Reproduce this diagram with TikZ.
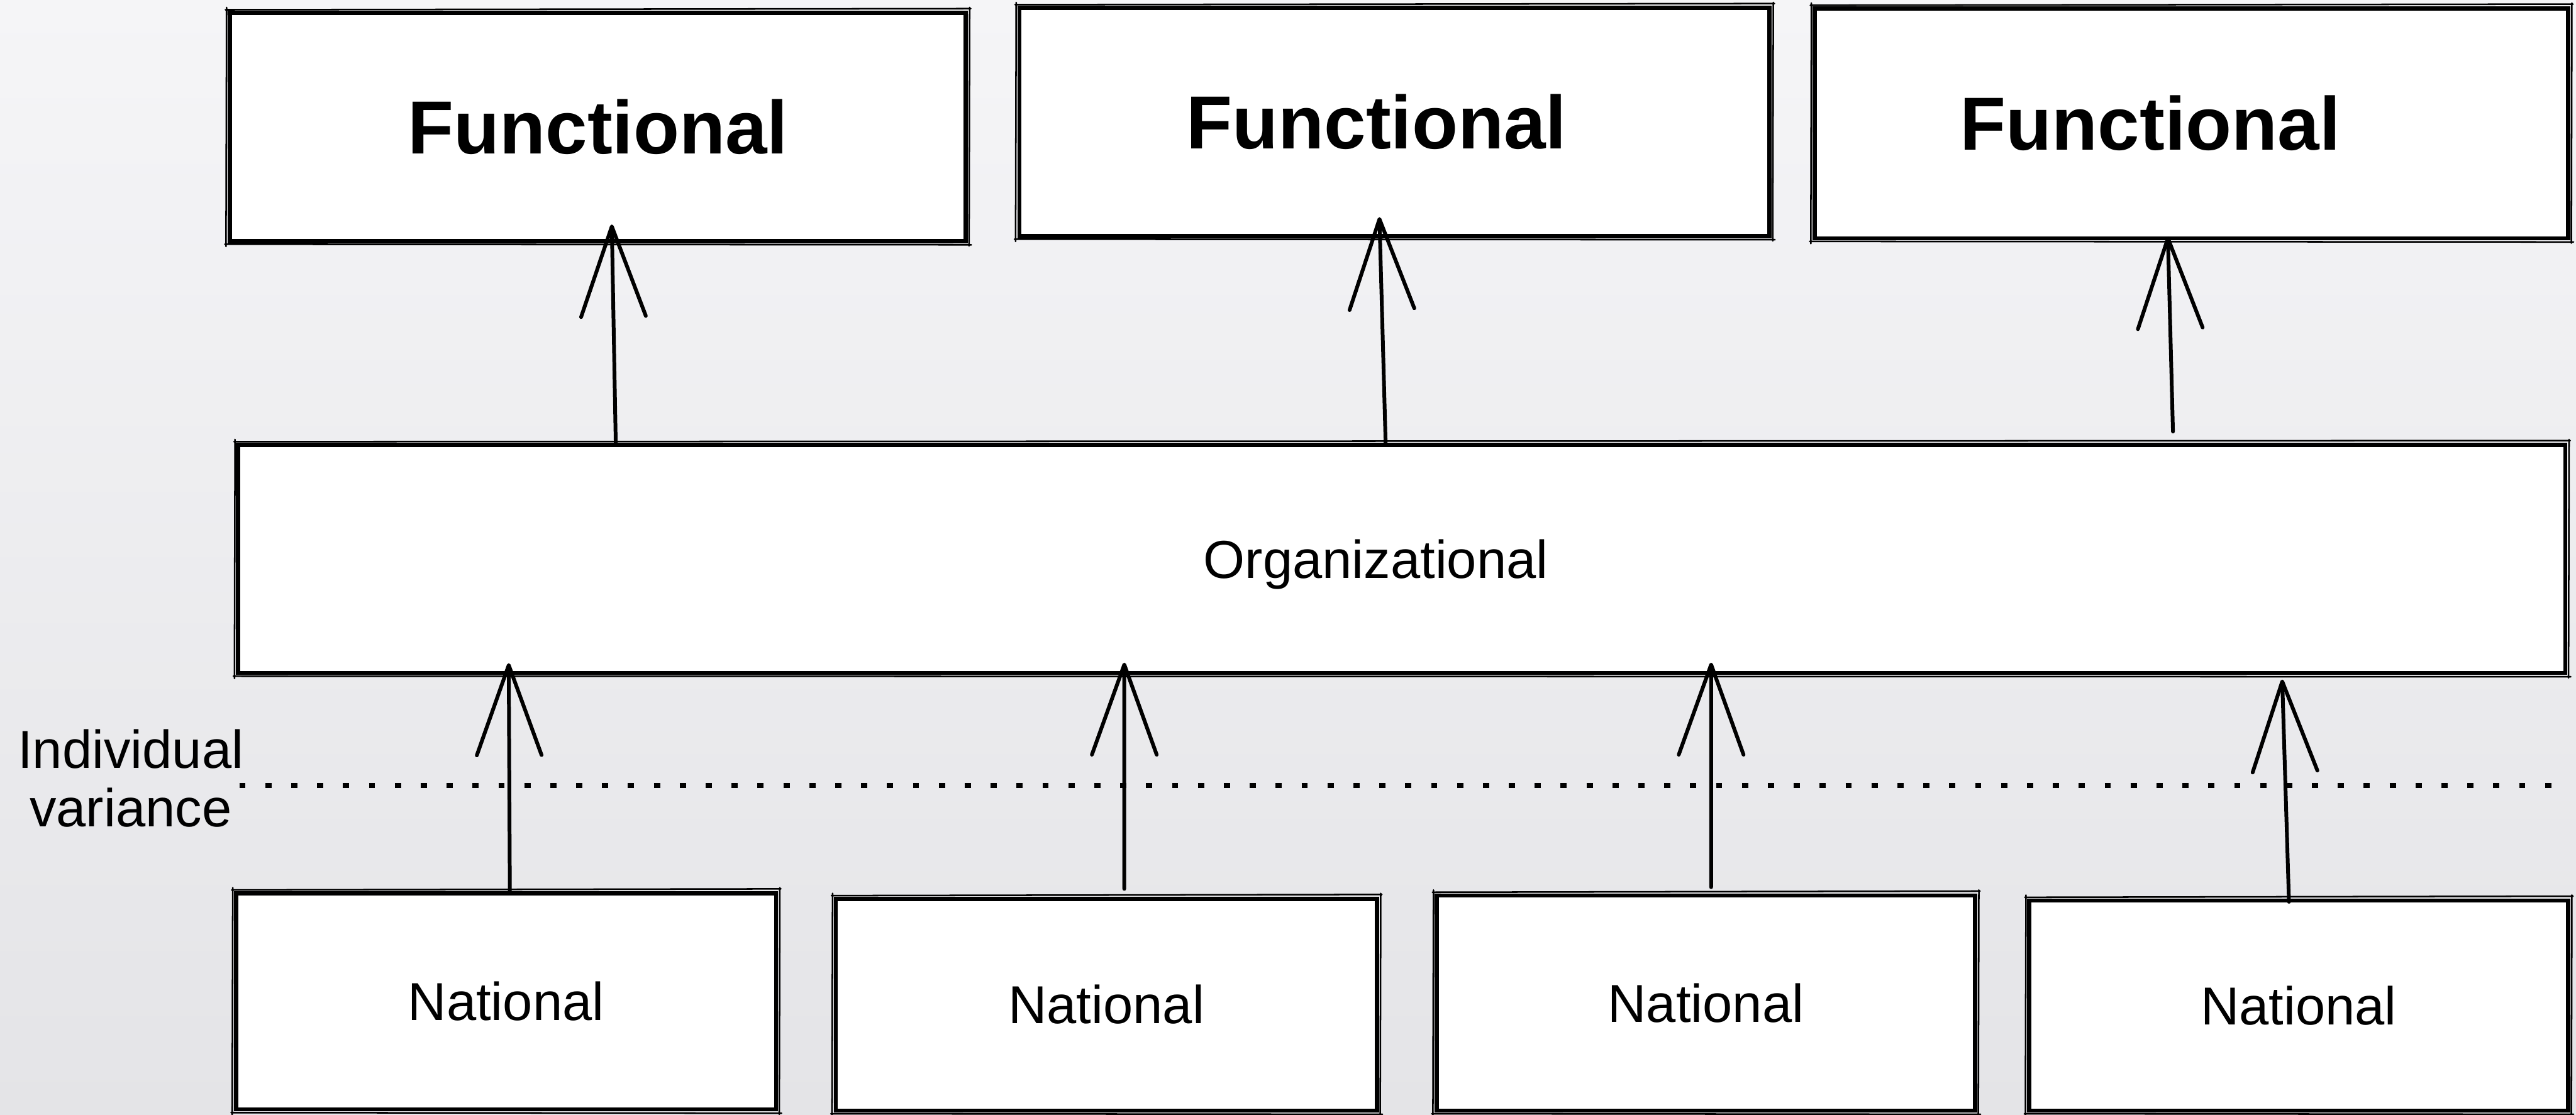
\documentclass[tikz,border=0pt]{standalone}
\usepackage{fontspec}
\setmainfont{Liberation Sans}
\usetikzlibrary{arrows.meta,calc}
\definecolor{bgtop}{HTML}{F5F5F7}
\definecolor{bgbot}{HTML}{E4E4E7}
\tikzset{
  box/.style={draw=black, fill=white, line width=2.1pt, inner sep=0pt},
  funcbox/.style={box, font=\fontsize{38}{40}\selectfont\bfseries},
  orgbox/.style={box, text depth=0pt, font=\fontsize{27}{29.5}\selectfont},
  natbox/.style={box, font=\fontsize{27}{29.5}\selectfont},
  rough/.style={line width=0.8pt, line cap=round},
  upar/.style={line width=1.9pt, line cap=round, -{Straight Barb[length=1.6cm,width=1.15cm,round]}},
  dotline/.style={line width=0.085cm, dash pattern=on 0.11cm off 0.35cm},
  lbl/.style={align=center, font=\fontsize{27}{29.5}\selectfont, inner sep=0pt}
}
\newcommand{\roughbox}[1]{%
  \draw[rough] ([shift={(-0.04,0.02)}]#1.north west) -- ([shift={(0.05,0.04)}]#1.north east)
               ([shift={(0.03,0.06)}]#1.north east) -- ([shift={(0.02,-0.05)}]#1.south east)
               ([shift={(0.06,-0.03)}]#1.south east) -- ([shift={(-0.05,-0.02)}]#1.south west)
               ([shift={(-0.03,-0.06)}]#1.south west) -- ([shift={(-0.02,0.06)}]#1.north west);}
\begin{document}
\begin{tikzpicture}
  % background
  \shade[top color=bgtop, bottom color=bgbot] (0,0) rectangle (45.74,-19.79);
  \useasboundingbox (0,0) rectangle (45.74,-19.79);

  % functional boxes
  \node[funcbox, minimum width=13.07cm, minimum height=4.05cm] (F1) at (10.615,-2.255) {Functional};
  \node[funcbox, minimum width=13.32cm, minimum height=4.05cm] (F2) at (24.76,-2.165) {Functional\hspace*{0.64cm}};
  \node[funcbox, minimum width=13.38cm, minimum height=4.08cm] (F3) at (38.91,-2.19) {Functional\hspace*{1.46cm}};

  % organizational box
  \node[orgbox, minimum width=41.32cm, minimum height=4.05cm] (org) at (24.89,-9.925) {Organizational\hspace*{0.92cm}};

  % national boxes
  \node[natbox, minimum width=9.59cm, minimum height=3.84cm] (N1) at (8.985,-17.78) {National};
  \node[natbox, minimum width=9.61cm, minimum height=3.76cm] (N2) at (19.645,-17.84) {National};
  \node[natbox, minimum width=9.56cm, minimum height=3.82cm] (N3) at (30.29,-17.81) {National};
  \node[natbox, minimum width=9.57cm, minimum height=3.73cm] (N4) at (40.815,-17.855) {National};

  \roughbox{F1}\roughbox{F2}\roughbox{F3}\roughbox{org}
  \roughbox{N1}\roughbox{N2}\roughbox{N3}\roughbox{N4}

  % dotted line and its label
  \coordinate (d1) at (4.25,-13.95);
  \coordinate (d2) at (45.56,-13.95);
  \draw[dotline] (d1) -- (d2);
  \node[lbl] (iv) at (2.32,-13.82) {Individual\\variance};

  % arrows: organizational -> functional
  \draw[upar] ([xshift=6.74cm]org.north west) -- ([xshift=6.82cm,yshift=0.33cm]F1.south west);
  \draw[upar] ([xshift=20.41cm]org.north west) -- ([xshift=6.43cm,yshift=0.37cm]F2.south west);
  \draw[upar] ([xshift=34.39cm,yshift=0.2cm]org.north west) -- ([xshift=6.31cm,yshift=0.07cm]F3.south west);

  % arrows: national -> organizational
  \draw[upar] ([xshift=4.90cm]N1.north west) -- ([xshift=4.84cm,yshift=0.21cm]org.south west);
  \draw[upar] ([xshift=5.16cm,yshift=0.14cm]N2.north west) -- ([xshift=15.77cm,yshift=0.22cm]org.south west);
  \draw[upar] ([xshift=4.91cm,yshift=0.11cm]N3.north west) -- ([xshift=26.19cm,yshift=0.22cm]org.south west);
  \draw[upar] ([xshift=4.65cm,yshift=-0.06cm]N4.north west) -- ([xshift=36.33cm,yshift=-0.08cm]org.south west);
\end{tikzpicture}
\end{document}
